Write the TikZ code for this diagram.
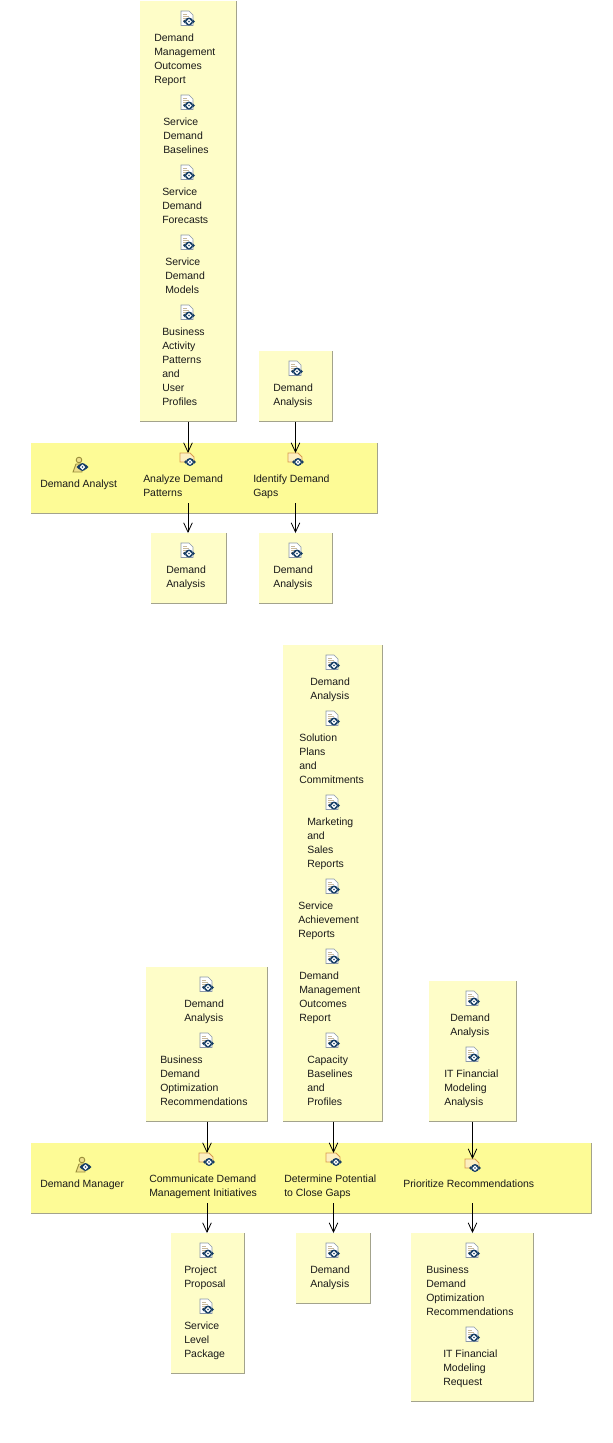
\documentclass[tikz,border=0pt]{standalone}
\usepackage{fontspec}
\setmainfont{Liberation Sans}
\usetikzlibrary{arrows.meta}
\definecolor{boxyellow}{HTML}{FEFDC8}
\definecolor{laneyellow}{HTML}{FDFB96}
\definecolor{edgegray}{HTML}{A3A38C}
\definecolor{roundblue}{HTML}{143C64}
\definecolor{pagegray}{HTML}{8A97A8}
\definecolor{pageline}{HTML}{C9B99A}
\definecolor{taskedge}{HTML}{D99A4E}
\definecolor{taskfill}{HTML}{FDEFC0}
\definecolor{roleedge}{HTML}{9A8F3C}
\definecolor{rolefill}{HTML}{EFE08A}
\tikzset{
  outbox/.style={fill=boxyellow,draw=none,anchor=north west,inner sep=0pt},
  lanebox/.style={fill=laneyellow,draw=none,anchor=north west,inner sep=0pt},
  lbl/.style={anchor=north west,inner sep=0pt,yshift=-0.7pt,align=left,font=\fontsize{7.85pt}{10.5pt}\selectfont,text=black!90},
  flow/.style={-{Straight Barb[length=7pt,width=6.5pt]},semithick},
  roundel/.pic={
    \fill[roundblue] (0,0) circle (4);
    \draw[white,line width=0.9pt] (0,0) circle (1.9);
    \fill[roundblue] (-6,0) -- (-3.6,-2.2) -- (-3.6,2.2) -- cycle;
    \fill[roundblue] (6,0) -- (3.6,-2.2) -- (3.6,2.2) -- cycle;
  },
  docicon/.pic={
    \draw[fill=white,draw=pagegray,line width=0.5pt] (-6,-8) -- (2,-8) -- (6,-4) -- (6,6.5) -- (-6,6.5) -- cycle;
    \draw[pageline,line width=0.5pt] (-4,-5) -- (0,-5) (-4,-3) -- (2,-3) (-4,-1) -- (2,-1) (-4,1) -- (-1,1);
    \pic at (2,2.5) {roundel};
  },
  taskicon/.pic={
    \draw[fill=taskfill,draw=taskedge,line width=0.6pt] (-7,-7) -- (3,-7) -- (7,-3) -- (7,2) -- (-7,2) -- cycle;
    \pic at (3,2) {roundel};
  },
  roleicon/.pic={
    \draw[fill=rolefill,draw=roleedge,line width=0.7pt] (-9,7) -- (-6,-1) -- (0,-1) -- (0,7) -- cycle;
    \draw[fill=rolefill,draw=roleedge,line width=0.7pt] (-3,-5) circle (2.8);
    \pic at (0.5,2) {roundel};
  }
}
\begin{document}
\begin{tikzpicture}[x=0.75pt,y=-0.75pt]
  \useasboundingbox (0,0) rectangle (612,1443);

  % output and input boxes
  \foreach \nm/\xa/\ya/\xb/\yb in {
      inA/140/1/235.5/421, inB/259/351/331.5/421, outA/151/533/225.5/603, outB/259/533/331.5/603,
      inC/146/967/266.5/1121, inD/283/645/381.5/1121, inE/429/981/515.5/1121,
      outC/171/1233/243.5/1373, outD/296/1233/369.5/1303, outE/411/1233/532.5/1401}{
    \node[outbox,minimum width={(\xb-\xa)*0.75pt},minimum height={(\yb-\ya)*0.75pt}] (\nm) at (\xa,\ya) {};
    \draw[edgegray] (\nm.north east) -- (\nm.south east) -- (\nm.south west);
  }

  % the two lanes
  \foreach \nm/\xa/\ya/\xb/\yb in {laneA/31/443/376.5/513, laneB/31/1143/590.5/1213}{
    \node[lanebox,minimum width={(\xb-\xa)*0.75pt},minimum height={(\yb-\ya)*0.75pt}] (\nm) at (\xa,\ya) {};
    \draw[edgegray] (\nm.north east) -- (\nm.south east) -- (\nm.south west);
  }

  % document icons
  \foreach \ix/\iy in {187/19,187/103,187/173,187/243,187/313,295/369,187/551,295/551,
      332/663,332/719,332/803,332/887,332/957,332/1041,206/985,206/1041,472/999,472/1055,
      206/1251,206/1307,332/1251,472/1251,472/1335}
    \pic at (\ix,\iy) {docicon};

  % labels
  \foreach \nm/\tx/\ty/\txt in {
      a/154/33/{Demand\\Management\\Outcomes\\Report},
      b/163/117/{Service\\Demand\\Baselines},
      c/162/187/{Service\\Demand\\Forecasts},
      d/165/257/{Service\\Demand\\Models},
      e/162/327/{Business\\Activity\\Patterns\\and\\User\\Profiles},
      f/273/383/{Demand\\Analysis},
      g/166/565/{Demand\\Analysis},
      h/273/565/{Demand\\Analysis},
      i/310/677/{Demand\\Analysis},
      j/299/733/{Solution\\Plans\\and\\Commitments},
      k/307/817/{Marketing\\and\\Sales\\Reports},
      l/298/901/{Service\\Achievement\\Reports},
      m/299/971/{Demand\\Management\\Outcomes\\Report},
      n/307/1055/{Capacity\\Baselines\\and\\Profiles},
      o/184/999/{Demand\\Analysis},
      p/160/1055/{Business\\Demand\\Optimization\\Recommendations},
      q/450/1013/{Demand\\Analysis},
      r/444/1069/{IT Financial\\Modeling\\Analysis},
      s/184/1265/{Project\\Proposal},
      t/184/1321/{Service\\Level\\Package},
      u/310/1265/{Demand\\Analysis},
      v/426/1265/{Business\\Demand\\Optimization\\Recommendations},
      w/443/1349/{IT Financial\\Modeling\\Request},
      analyst/40/479/{Demand Analyst},
      analyze/143/474/{Analyze Demand\\Patterns},
      identify/253/474/{Identify Demand\\Gaps},
      manager/40/1179/{Demand Manager},
      communicate/149/1174/{Communicate Demand\\Management Initiatives},
      determine/284/1174/{Determine Potential\\to Close Gaps},
      prioritize/403/1179/{Prioritize Recommendations}}
    \node[lbl] (\nm) at (\tx,\ty) {\txt};

  % role and task icons
  \pic at (82,465) {roleicon};
  \pic at (85,1165) {roleicon};
  \foreach \ix/\iy in {187/460,295/460,206/1160,333/1160,472/1166}
    \pic at (\ix,\iy) {taskicon};

  % free ends inside the lanes
  \coordinate (analyzeIn) at (188,453);
  \coordinate (analyzeOut) at (188,503);
  \coordinate (identifyIn) at (295.5,453);
  \coordinate (identifyOut) at (295.5,503);
  \coordinate (communicateIn) at (207,1153);
  \coordinate (communicateOut) at (207,1203);
  \coordinate (determineIn) at (333.5,1153);
  \coordinate (determineOut) at (333.5,1203);
  \coordinate (prioritizeIn) at (472.5,1159);
  \coordinate (prioritizeOut) at (472.5,1203);

  \draw[flow] (inA.south -| analyzeIn) -- (analyzeIn);
  \draw[flow] (inB.south -| identifyIn) -- (identifyIn);
  \draw[flow] (analyzeOut) -- (analyzeOut |- outA.north);
  \draw[flow] (identifyOut) -- (identifyOut |- outB.north);
  \draw[flow] (inC.south -| communicateIn) -- (communicateIn);
  \draw[flow] (inD.south -| determineIn) -- (determineIn);
  \draw[flow] (inE.south -| prioritizeIn) -- (prioritizeIn);
  \draw[flow] (communicateOut) -- (communicateOut |- outC.north);
  \draw[flow] (determineOut) -- (determineOut |- outD.north);
  \draw[flow] (prioritizeOut) -- (prioritizeOut |- outE.north);
\end{tikzpicture}
\end{document}
